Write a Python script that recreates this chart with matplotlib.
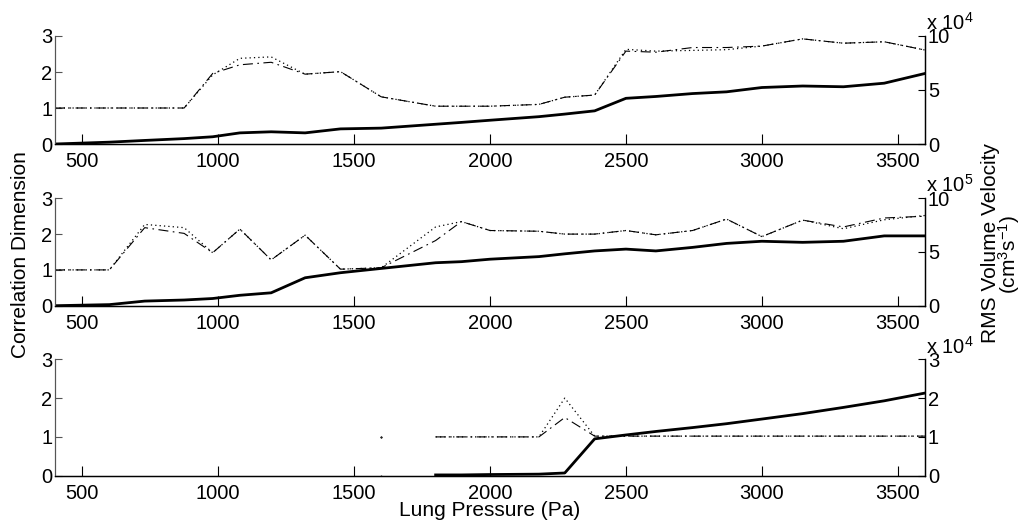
import numpy as np
import matplotlib
matplotlib.use('Agg')
import matplotlib.pyplot as plt

plt.rcParams['font.family'] = ['Liberation Sans', 'DejaVu Sans']
plt.rcParams['mathtext.fontset'] = 'custom'
plt.rcParams['mathtext.rm'] = 'Liberation Sans'
plt.rcParams['mathtext.it'] = 'Liberation Sans'
plt.rcParams['font.size'] = 14

nan = np.nan

# lung pressure (Pa)
pressure = [400, 600, 730, 875, 980, 1080, 1195, 1320, 1450, 1600, 1800, 1895, 2000,
            2180, 2275, 2385, 2500, 2610, 2745, 2870, 3000, 3150, 3300, 3450, 3600]
# bottom panel only has data from 1600 Pa on (1700 is a gap)
pressure_low = [1600, 1700, 1800, 1895, 2000, 2180, 2275, 2385, 2500, 2610, 2745,
                2870, 3000, 3150, 3300, 3450, 3600]

# correlation dimension, two estimates (dash-dot / dotted), left axis
cd_dash_top = [1.0, 1.0, 1.0, 1.0, 1.96, 2.2, 2.27, 1.94, 2.01, 1.31, 1.05, 1.05, 1.05,
               1.1, 1.3, 1.36, 2.58, 2.55, 2.68, 2.68, 2.72, 2.92, 2.8, 2.84, 2.61]
cd_dot_top = [1.0, 1.0, 1.0, 1.0, 1.92, 2.38, 2.42, 1.94, 2.01, 1.31, 1.05, 1.05, 1.05,
              1.1, 1.3, 1.36, 2.63, 2.58, 2.6, 2.62, 2.72, 2.92, 2.8, 2.84, 2.61]
cd_dash_mid = [1.0, 1.0, 2.18, 2.02, 1.48, 2.14, 1.28, 1.97, 1.02, 1.06, 1.82, 2.35, 2.1,
               2.08, 2.0, 2.0, 2.1, 1.98, 2.1, 2.42, 1.93, 2.39, 2.2, 2.45, 2.5]
cd_dot_mid = [1.0, 1.0, 2.27, 2.18, 1.48, 2.14, 1.28, 1.97, 1.02, 1.06, 2.2, 2.35, 2.1,
              2.08, 2.0, 2.0, 2.1, 1.98, 2.1, 2.42, 1.93, 2.39, 2.15, 2.4, 2.52]
cd_dash_low = [1.0, nan, 1.0, 1.0, 1.0, 1.0, 1.5, 1.02, 1.02, 1.02, 1.02,
               1.02, 1.02, 1.02, 1.02, 1.02, 1.02]
cd_dot_low = [1.0, nan, 1.0, 1.0, 1.0, 1.0, 2.0, 1.02, 1.02, 1.02, 1.02,
              1.02, 1.02, 1.02, 1.02, 1.02, 1.02]

# RMS volume velocity, right axis (x1e4, x1e5, x1e4)
rms_top = [0.0, 0.17, 0.33, 0.5, 0.67, 1.03, 1.13, 1.03, 1.4, 1.47, 1.83, 2.0, 2.2,
           2.53, 2.77, 3.07, 4.23, 4.4, 4.67, 4.83, 5.23, 5.37, 5.3, 5.63, 6.53]
rms_mid = [0.0, 0.1, 0.43, 0.53, 0.67, 0.97, 1.2, 2.6, 3.07, 3.47, 4.0, 4.1, 4.33,
           4.57, 4.83, 5.1, 5.27, 5.1, 5.43, 5.8, 6.0, 5.9, 6.0, 6.5, 6.5]
rms_low = [0.0, nan, 0.02, 0.02, 0.03, 0.04, 0.07, 0.95, 1.05, 1.14, 1.24,
           1.34, 1.46, 1.6, 1.76, 1.93, 2.13]

panels = [
    (pressure, cd_dash_top, cd_dot_top, rms_top, 10, [0, 5, 10], '4'),
    (pressure, cd_dash_mid, cd_dot_mid, rms_mid, 10, [0, 5, 10], '5'),
    (pressure_low, cd_dash_low, cd_dot_low, rms_low, 3, [0, 1, 2, 3], '4'),
]

W, H = 1031, 527
fig = plt.figure(figsize=(W / 100, H / 100), dpi=100)

# axes boxes in pixels: (top, bottom)
boxes = [(36, 144), (198.3, 305.7), (359.3, 475.7)]
x0, x1 = 55, 925

for (x, cda, cdb, rms, rmax, rticks, expo), (top, bot) in zip(panels, boxes):
    ax = fig.add_axes([x0 / W, (H - bot) / H, (x1 - x0) / W, (bot - top) / H])
    ax2 = ax.twinx()

    # isolated first point of the bottom panel shows as a faint dot
    mk = [0] if x is pressure_low else []
    ax.plot(x, cdb, color='black', lw=0.9, linestyle=(0, (1, 2.5)),
            marker='.', markersize=0.8, markevery=mk)
    ax.plot(x, cda, color='black', lw=0.8, linestyle=(0, (9, 4, 1.5, 4)),
            marker='.', markersize=0.8, markevery=mk)
    ax2.plot(x, rms, color='black', lw=2.0, solid_joinstyle='round',
             marker='.', markersize=0.8, markevery=mk)

    ax.set_xlim(400, 3600)
    ax.set_ylim(0, 3)
    ax.set_yticks([0, 1, 2, 3])
    ax.set_xticks([500, 1000, 1500, 2000, 2500, 3000, 3500])
    ax2.set_ylim(0, rmax)
    ax2.set_yticks(rticks)

    for a in (ax, ax2):
        a.spines['top'].set_visible(False)
        a.spines['bottom'].set_linewidth(0.9)
        a.spines['left'].set_linewidth(0.8)
        a.spines['right'].set_linewidth(0.9)
        a.spines['left'].set_color('#555555')
    ax.tick_params(axis='x', direction='in', length=7, width=0.8, pad=6, labelsize=14.5)
    ax.tick_params(axis='y', direction='in', length=5, width=0.8, pad=2, labelsize=14.5,
                   color='#555555')
    ax2.tick_params(axis='y', direction='in', length=5, width=0.8, pad=2, labelsize=14.5)

    fig.text(926 / W, (H - top + 6) / H, r'x 10$^{%s}$' % expo, fontsize=14.5,
             ha='left', va='baseline')

fig.text(21 / W, (H - 255) / H, 'Correlation Dimension', rotation=90,
         ha='center', va='center', fontsize=15)
fig.text(490 / W, (H - 510) / H, 'Lung Pressure (Pa)', ha='center', va='center', fontsize=15)
fig.text(991 / W, (H - 243) / H, 'RMS Volume Velocity', rotation=90,
         ha='center', va='center', fontsize=15)
fig.text(1009 / W, (H - 254) / H, r'(cm$^{3}$s$^{-1}$)', rotation=90,
         ha='center', va='center', fontsize=15)

fig.savefig('out.png', dpi=100)
